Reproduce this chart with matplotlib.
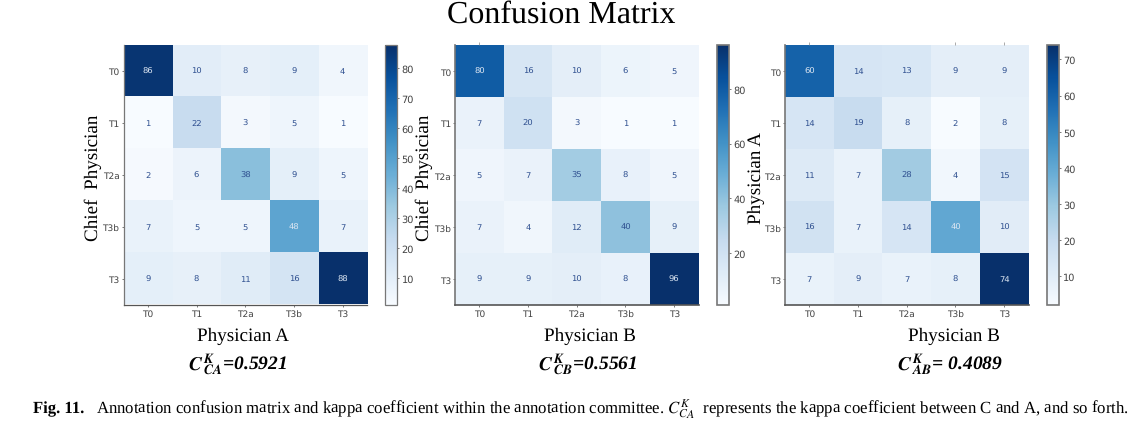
import numpy as np
import matplotlib
matplotlib.use("Agg")
import matplotlib.pyplot as plt

labels = ["T0", "T1", "T2a", "T3b", "T3"]

cm_ca = [[86, 10, 8, 9, 4],
         [1, 22, 3, 5, 1],
         [2, 6, 38, 9, 5],
         [7, 5, 5, 48, 7],
         [9, 8, 11, 16, 88]]
cm_cb = [[80, 16, 10, 6, 5],
         [7, 20, 3, 1, 1],
         [5, 7, 35, 8, 5],
         [7, 4, 12, 40, 9],
         [9, 9, 10, 8, 96]]
cm_ab = [[60, 14, 13, 9, 9],
         [14, 19, 8, 2, 8],
         [11, 7, 28, 4, 15],
         [16, 7, 14, 40, 10],
         [7, 9, 7, 8, 74]]

ticks_ca = [10, 20, 30, 40, 50, 60, 70, 80]
ticks_cb = [20, 40, 60, 80]
ticks_ab = [10, 20, 30, 40, 50, 60, 70]

W, H = 1143, 431
SERIF = "Liberation Serif"
plt.rcParams["mathtext.fontset"] = "stix"
plt.rcParams["text.hinting"] = "no_hinting"


def box(x0, y0, x1, y1):
    # pixel box (y from the top) to figure fractions
    return [x0 / W, 1 - y1 / H, (x1 - x0) / W, (y1 - y0) / H]


def panel(fig, cm, cticks, ax_box, cb_box, ylabel, ylabel_x, xlabel, xlabel_x, kappa, kappa_x,
          top_ticks=(), edge=0.9):
    cm = np.array(cm)
    ax = fig.add_axes(box(*ax_box))
    im = ax.imshow(cm, cmap="Blues", aspect="auto", interpolation="nearest")
    for i in range(5):
        for j in range(5):
            color = "#dce6f2" if cm[i, j] > 0.5 * cm.max() else "#2f5090"
            ax.text(j, i, str(cm[i, j]), ha="center", va="center", fontsize=6, color=color)
    ax.set_xticks(range(5), labels)
    ax.set_yticks(range(5), labels)
    ax.tick_params(labelsize=6.5, length=1.5, width=0.5, pad=1.5, colors="#444444")
    ax.spines["top"].set_visible(False)
    ax.spines["right"].set_visible(False)
    ax.spines["left"].set_color("#777777")
    ax.spines["bottom"].set_color("#555555")
    ax.spines["left"].set_linewidth(edge)
    ax.spines["bottom"].set_linewidth(edge)

    # faint stubs left above some panels
    if len(top_ticks) > 0:
        top = ax.secondary_xaxis("top")
        top.set_xticks(top_ticks, [""] * len(top_ticks))
        top.tick_params(length=2, width=0.5, colors="#888888")
        top.spines["top"].set_visible(False)

    cax = fig.add_axes(box(*cb_box))
    cb = fig.colorbar(im, cax=cax, ticks=cticks)
    cb.ax.tick_params(labelsize=7, length=1.5, width=0.5, pad=1.5, colors="#444444")
    cb.outline.set_edgecolor("#777777")
    cb.outline.set_linewidth(edge)

    fig.text(ylabel_x / W, 1 - 178 / H, ylabel, rotation=90, ha="center", va="center",
             family=SERIF, fontsize=13.8)
    fig.text(xlabel_x / W, 1 - 336 / H, xlabel, ha="center", va="center",
             family=SERIF, fontsize=13.8)
    fig.text(kappa_x / W, 1 - 364 / H, kappa, ha="center", va="center",
             family=SERIF, fontsize=14, fontweight="bold", fontstyle="italic")


fig = plt.figure(figsize=(W / 100, H / 100), dpi=100)

fig.text(561 / W, 1 - 15 / H, "Confusion Matrix", ha="center", va="center",
         family=SERIF, fontsize=23)

panel(fig, cm_ca, ticks_ca, (123.5, 45.5, 367, 305.5), (385.5, 45.5, 397.5, 305.5),
      "Chief  Physician", 93, "Physician A", 243,
      r"$\mathbfit{C}\,{}_{\mathbfit{CA}}^{\mathbfit{K}}$=0.5921", 238)
panel(fig, cm_cb, ticks_cb, (455, 46, 698.5, 306), (717, 46, 729, 306),
      "Chief  Physician", 424, "Physician B", 590,
      r"$\mathbfit{C}\,{}_{\mathbfit{CB}}^{\mathbfit{K}}$=0.5561", 588,
      top_ticks=[0], edge=1.2)
panel(fig, cm_ab, ticks_ab, (785, 46, 1028.5, 306), (1047, 46, 1059, 306),
      "Physician A", 756, "Physician B", 954,
      r"$\mathbfit{C}\,{}_{\mathbfit{AB}}^{\mathbfit{K}}$= 0.4089", 950,
      top_ticks=[0, 3, 4], edge=1.2)

fig.text(33 / W, 1 - 409 / H, "Fig. 11.", family=SERIF, fontsize=12, fontweight="bold",
         va="center", ha="left")
fig.text(96 / W, 1 - 409 / H,
         "Annotation confusion matrix and kappa coefficient within the annotation committee. "
         r"$C_{CA}^{K}$  represents the kappa coefficient between C and A, and so forth.",
         family=SERIF, fontsize=12.05, va="center", ha="left")

fig.savefig("out.png", dpi=100)
